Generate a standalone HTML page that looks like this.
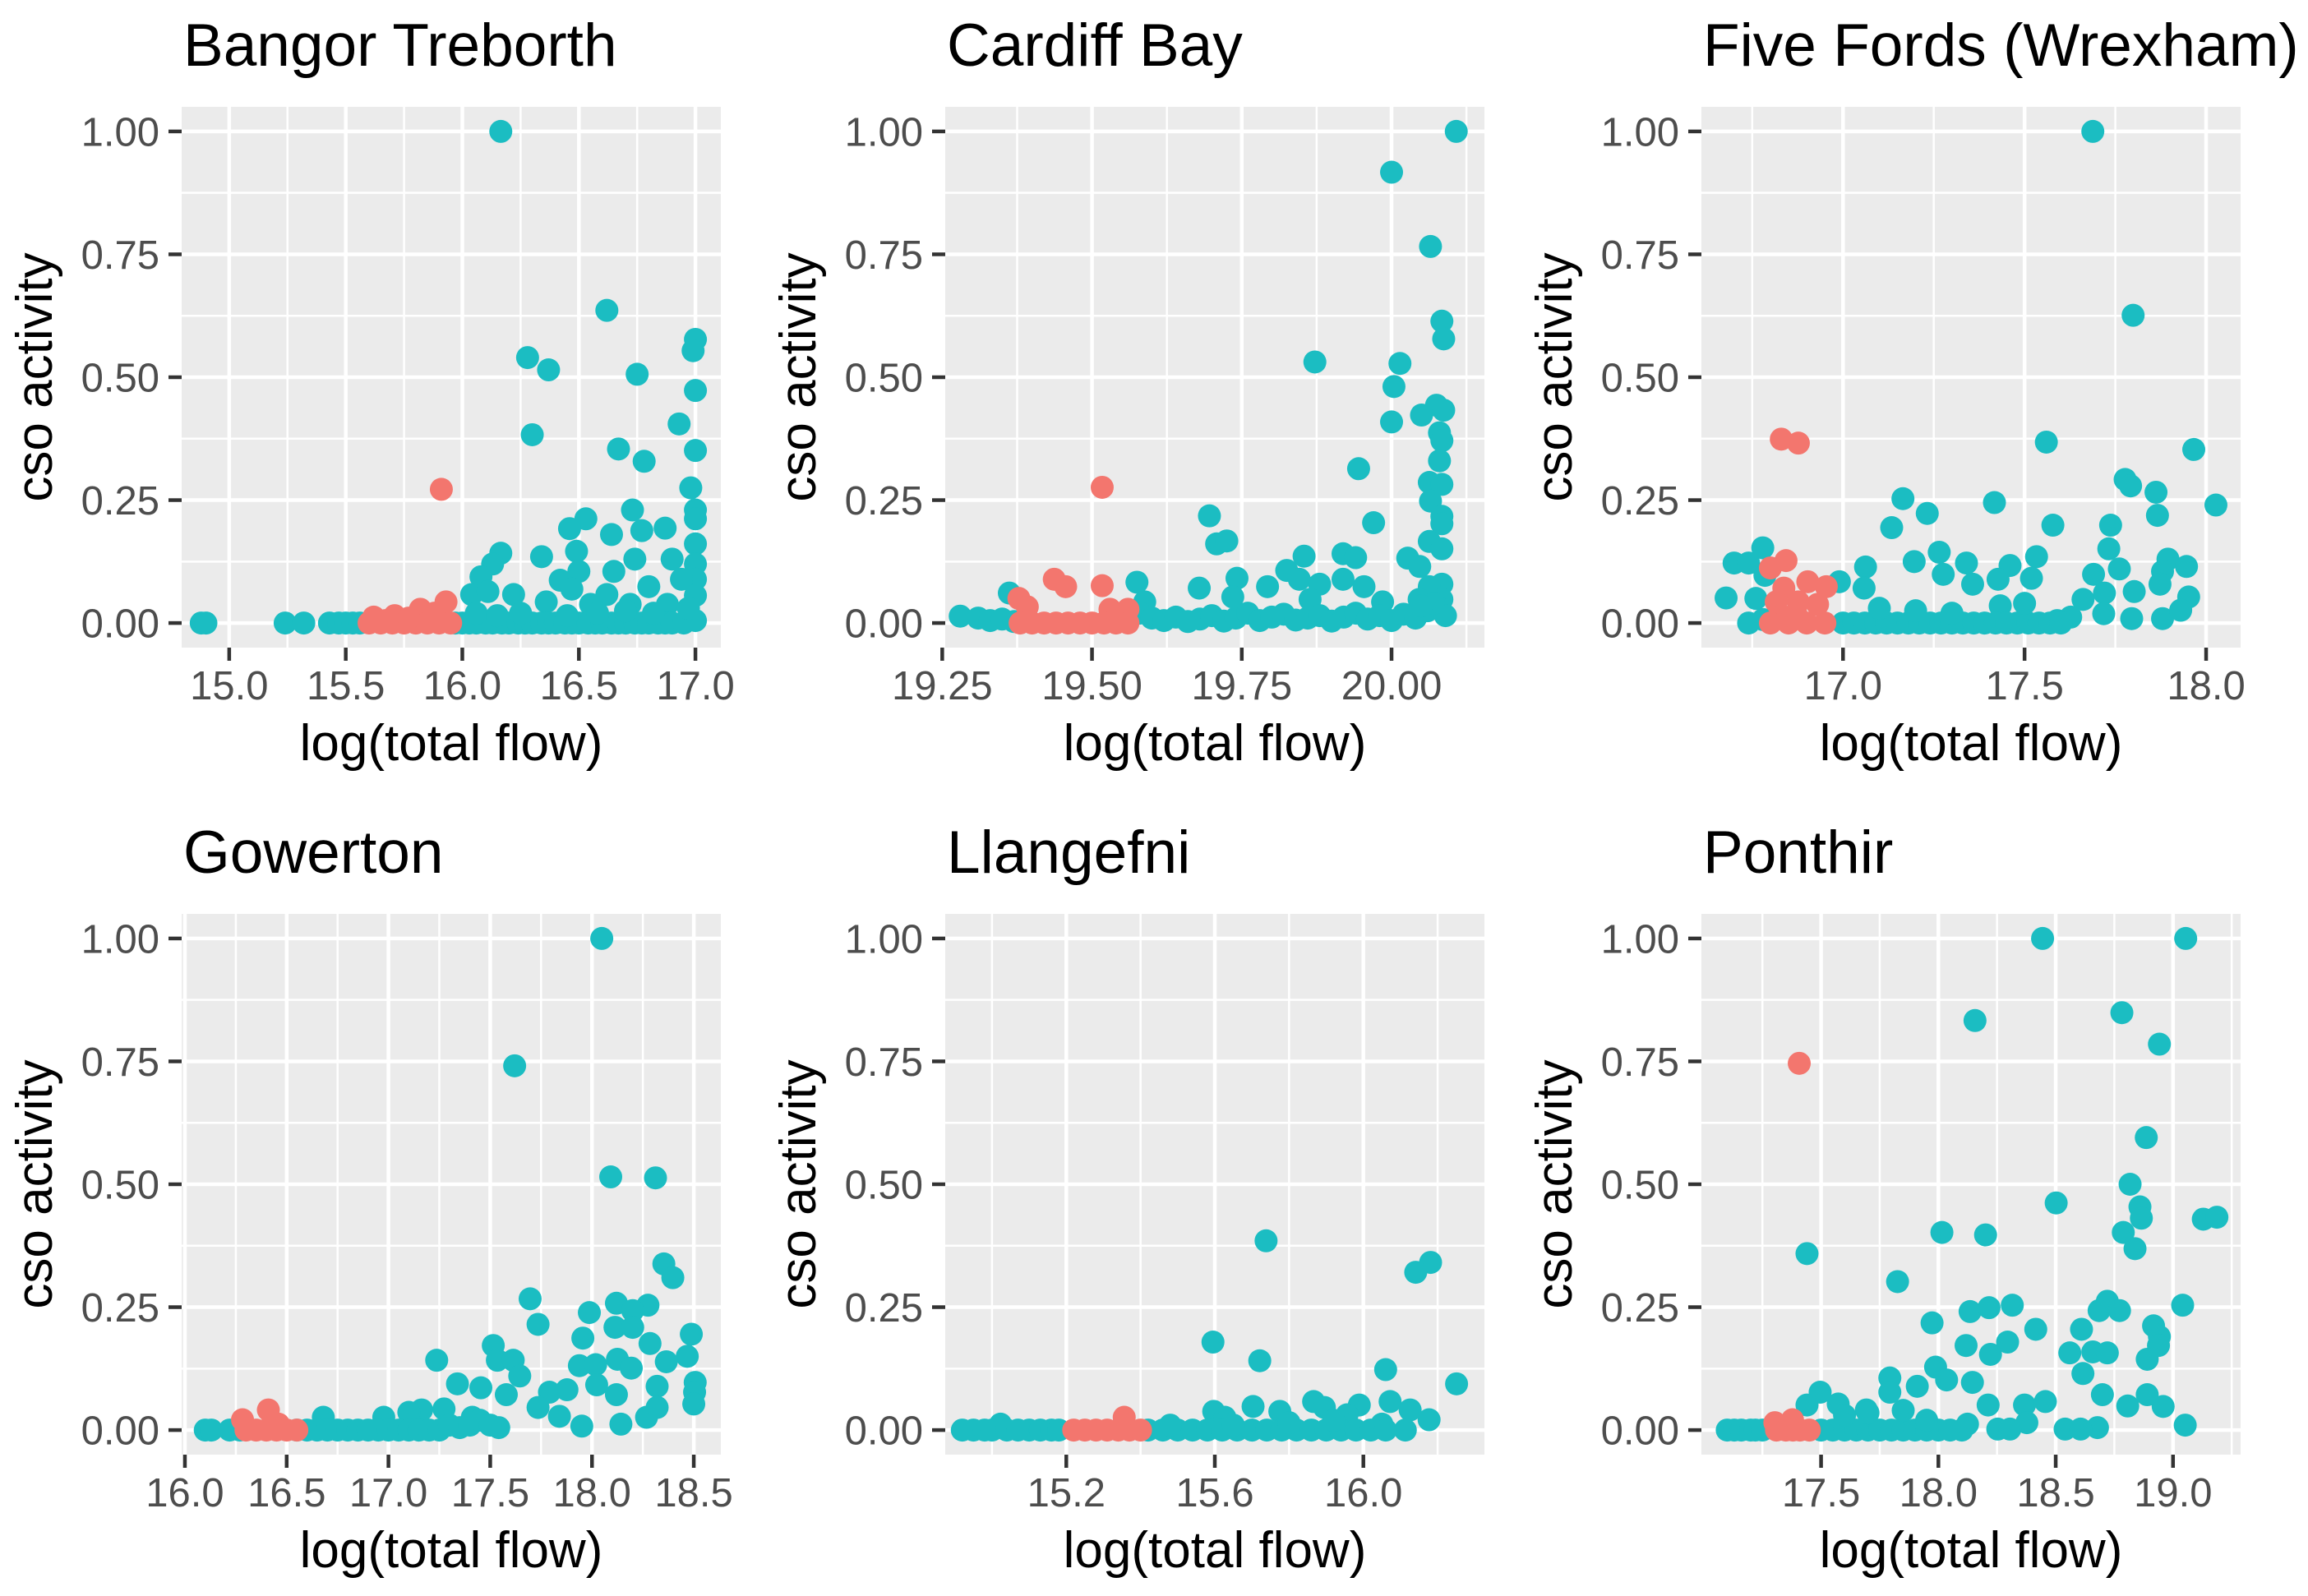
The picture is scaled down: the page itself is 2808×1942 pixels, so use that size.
<!DOCTYPE html>
<html><head><meta charset="utf-8"><style>
html,body{margin:0;padding:0;background:#fff;}
svg{display:block;font-family:"Liberation Sans",Arial,sans-serif;}
</style></head><body>
<svg id="chart" width="2808" height="1942" viewBox="0 0 2808 1942" xmlns="http://www.w3.org/2000/svg"></svg>
<script>
// ---------- data ----------
const panelTitles = ["Bangor Treborth","Cardiff Bay","Five Fords (Wrexham)","Gowerton","Llangefni","Ponthir"];
const yTicks = [0,0.25,0.5,0.75,1];
const yTickLabels = ["0.00","0.25","0.50","0.75","1.00"];
const xTicks = [[15.0,15.5,16.0,16.5,17.0],[19.25,19.5,19.75,20.0],[17.0,17.5,18.0],[16.0,16.5,17.0,17.5,18.0,18.5],[15.2,15.6,16.0],[17.5,18.0,18.5,19.0]];
const xTickLabels = [["15.0","15.5","16.0","16.5","17.0"],["19.25","19.50","19.75","20.00"],["17.0","17.5","18.0"],["16.0","16.5","17.0","17.5","18.0","18.5"],["15.2","15.6","16.0"],["17.5","18.0","18.5","19.0"]];
const xMinor = [[15.25,15.75,16.25,16.75],[19.375,19.625,19.875,20.125],[16.75,17.25,17.75],[16.25,16.75,17.25,17.75,18.25],[15.0,15.4,15.8,16.2],[17.25,17.75,18.25,18.75,19.25]];
const xDomains = [[14.796,17.109],[19.255,20.155],[16.61,18.095],[15.984,18.633],[14.874,16.326],[16.99,19.288]];

// Bangor Treborth
const cyanX1 = [16.165,16.62,16.28,16.37,16.30,16.75,17.0,16.99,17.0,16.93,17.0,16.67,16.78,16.98,17.0,17.0,16.73,16.53,16.46,16.64,16.77,16.87,16.165,16.13,16.34,16.49,16.50,16.42,16.74,16.65,16.90,17.0,17.0,17.0,16.94,16.08,16.04,16.11,16.22,16.47,16.62,16.80,17.0,16.87,17.0,16.88,16.72,16.36,16.55,14.88,14.9,15.24,15.32,15.43,15.47,15.5,15.53,15.56,15.97,16.0,16.03,16.06,16.1,16.13,16.17,16.2,16.24,16.27,16.3,16.34,16.37,16.4,16.44,16.47,16.5,16.54,16.57,16.6,16.64,16.67,16.7,16.74,16.77,16.8,16.84,16.87,16.9,16.95,16.06,16.15,16.25,16.45,16.58,16.7,16.82,16.97];
const cyanY1 = [1.0,0.636,0.54,0.515,0.383,0.506,0.577,0.554,0.473,0.405,0.351,0.354,0.329,0.275,0.23,0.212,0.23,0.212,0.192,0.18,0.188,0.193,0.142,0.12,0.135,0.146,0.105,0.087,0.13,0.105,0.13,0.161,0.12,0.089,0.089,0.094,0.058,0.064,0.058,0.069,0.058,0.074,0.056,0.002,0.005,0.038,0.038,0.043,0.038,0,0,0,0,0,0,0,0,0,0,0,0,0,0,0,0,0,0,0,0,0,0,0,0,0,0,0,0,0,0,0,0,0,0,0,0,0,0,0,0.02,0.015,0.02,0.015,0.02,0.025,0.02,0.03];
const redX1 = [15.91,15.93,15.82,15.71,15.6,15.65,15.7,15.75,15.8,15.85,15.9,15.95,15.88,15.77,15.62,15.67];
const redY1 = [0.272,0.043,0.028,0.015,0,0,0,0,0,0,0,0,0.02,0.01,0.012,0.005];

// Cardiff Bay
const cyanX2 = [20.108,20.0,20.065,20.084,20.087,19.872,20.014,20.004,20.0,20.05,20.075,20.087,20.08,20.084,20.08,20.063,20.084,20.065,20.084,20.084,19.945,19.97,19.696,19.708,19.725,19.854,19.919,19.94,20.063,20.084,20.027,20.047,19.825,19.846,19.919,19.88,19.742,19.793,19.679,19.575,19.362,19.954,20.084,20.063,20.084,19.985,19.735,19.588,20.046,19.864,19.28,19.31,19.33,19.35,19.37,19.58,19.6,19.62,19.64,19.66,19.68,19.7,19.72,19.74,19.76,19.78,19.8,19.82,19.84,19.86,19.88,19.9,19.92,19.94,19.96,19.98,20.0,20.02,20.04,20.06,20.08,20.09,20.07,20.05];
const cyanY2 = [1.0,0.917,0.766,0.614,0.578,0.531,0.528,0.481,0.409,0.423,0.443,0.433,0.387,0.371,0.33,0.286,0.282,0.248,0.217,0.202,0.314,0.204,0.218,0.161,0.167,0.136,0.141,0.133,0.166,0.151,0.132,0.115,0.107,0.089,0.089,0.079,0.091,0.074,0.071,0.083,0.061,0.074,0.079,0.074,0.048,0.043,0.053,0.043,0.048,0.048,0.014,0.01,0.005,0.008,0.003,0.02,0.01,0.005,0.012,0.003,0.008,0.015,0.004,0.01,0.02,0.005,0.012,0.018,0.006,0.01,0.015,0.004,0.012,0.02,0.008,0.015,0.005,0.018,0.01,0.025,0.03,0.015,0.04,0.035];
const redX2 = [19.517,19.437,19.456,19.517,19.378,19.392,19.53,19.56,19.38,19.4,19.42,19.44,19.46,19.48,19.5,19.52,19.54,19.56];
const redY2 = [0.276,0.089,0.074,0.076,0.05,0.033,0.028,0.028,0,0,0,0,0,0,0,0,0,0];

// Five Fords (Wrexham)
const cyanX3 = [17.688,17.799,17.56,17.966,17.777,17.792,17.862,17.866,18.027,17.165,17.417,17.232,17.134,17.578,17.737,17.732,16.779,16.7,16.74,17.062,17.196,17.265,17.34,17.276,17.46,17.533,17.69,17.761,17.895,17.946,17.88,17.873,17.952,17.802,17.72,17.357,17.427,17.519,17.661,17.718,17.795,17.88,17.93,16.678,17.058,16.99,16.785,16.74,16.78,17.433,17.627,17.59,17.0,17.03,17.06,17.09,17.12,17.15,17.18,17.21,17.24,17.27,17.3,17.33,17.36,17.39,17.42,17.45,17.48,17.51,17.54,17.57,17.6,17.1,17.2,17.3,17.5,16.76];
const cyanY3 = [1.0,0.626,0.368,0.353,0.292,0.279,0.266,0.219,0.24,0.253,0.245,0.223,0.194,0.199,0.199,0.151,0.153,0.122,0.122,0.114,0.125,0.144,0.122,0.099,0.117,0.135,0.099,0.11,0.13,0.115,0.105,0.079,0.053,0.064,0.061,0.079,0.089,0.091,0.048,0.019,0.009,0.009,0.026,0.051,0.071,0.084,0.097,0.0,0.007,0.035,0.012,0.005,0,0,0,0,0,0,0,0,0,0,0,0,0,0,0,0,0,0,0,0,0,0.03,0.025,0.02,0.04,0.05];
const redX3 = [16.83,16.877,16.843,16.8,16.903,16.837,16.954,16.816,16.877,16.93,16.823,16.8,16.85,16.9,16.95,16.87];
const redY3 = [0.374,0.366,0.127,0.112,0.084,0.071,0.074,0.043,0.043,0.038,0.012,0,0,0,0,0.02];

// Gowerton
const cyanX4 = [18.048,17.62,18.092,18.312,18.353,18.397,17.696,18.12,18.275,17.987,18.2,17.735,18.113,18.2,18.488,17.955,17.515,18.285,17.237,17.535,17.613,18.468,18.365,17.938,18.018,18.125,18.193,17.645,18.507,17.339,17.454,17.877,17.791,18.32,18.023,18.504,18.5,17.579,17.273,17.735,18.12,18.32,17.84,18.142,17.95,17.542,17.163,17.1,16.68,16.977,17.412,18.268,16.1,16.13,16.22,16.27,16.55,16.6,16.65,16.7,16.75,16.8,16.85,16.9,16.95,17.0,17.05,17.1,17.15,17.2,17.25,17.3,17.35,17.4,17.45,17.5];
const cyanY4 = [1.0,0.741,0.515,0.513,0.338,0.31,0.267,0.258,0.254,0.239,0.243,0.215,0.209,0.209,0.195,0.187,0.172,0.176,0.142,0.142,0.142,0.15,0.139,0.131,0.133,0.144,0.126,0.11,0.097,0.094,0.086,0.082,0.077,0.089,0.092,0.077,0.053,0.072,0.043,0.046,0.072,0.046,0.028,0.012,0.008,0.005,0.041,0.036,0.026,0.026,0.026,0.026,0,0,0,0,0,0,0,0,0,0,0,0,0,0,0,0,0,0,0,0.01,0.005,0.01,0.02,0.01];
const redX4 = [16.41,16.283,16.46,16.3,16.35,16.4,16.45,16.5,16.55];
const redY4 = [0.041,0.021,0.012,0,0,0,0,0,0];

// Llangefni
const cyanX5 = [15.738,16.181,16.141,15.595,15.721,16.06,16.251,16.072,15.703,15.866,15.989,15.597,15.775,15.895,16.126,16.177,16.113,16.05,15.956,15.627,15.023,14.92,14.95,14.98,15.0,15.04,15.07,15.1,15.13,15.16,15.18,15.42,15.46,15.5,15.54,15.58,15.62,15.66,15.7,15.74,15.78,15.82,15.86,15.9,15.94,15.98,16.02,16.06,15.48,15.65,15.8,15.92];
const cyanY5 = [0.385,0.341,0.321,0.179,0.141,0.123,0.094,0.058,0.048,0.058,0.051,0.038,0.038,0.046,0.041,0.021,0.0,0.012,0.031,0.026,0.012,0,0,0,0,0,0,0,0,0,0,0,0,0,0,0,0,0,0,0,0,0,0,0,0,0,0,0,0.01,0.01,0.015,0.02];
const redX5 = [15.356,15.22,15.25,15.28,15.31,15.34,15.37,15.4];
const redY5 = [0.026,0,0,0,0,0,0,0];

// Ponthir
const cyanX6 = [18.444,19.054,18.156,18.782,18.942,18.886,18.817,18.859,18.865,18.502,19.129,19.187,18.015,18.201,18.788,18.838,17.44,17.826,18.135,18.216,18.315,19.041,18.685,18.72,18.772,17.973,18.415,18.61,18.917,18.942,18.938,18.118,18.295,18.222,18.56,18.658,18.72,18.89,18.616,17.988,17.793,18.145,18.035,17.91,18.699,18.89,18.958,18.807,17.496,17.573,17.44,18.367,18.456,18.212,17.793,17.693,19.052,18.678,18.54,18.606,18.377,18.124,18.253,18.305,17.1,17.13,17.16,17.2,17.22,17.25,17.5,17.55,17.6,17.65,17.7,17.75,17.8,17.85,17.9,17.95,18.0,18.05,18.1,17.6,17.7,17.85,17.95];
const cyanY6 = [1.0,1.0,0.833,0.849,0.785,0.595,0.5,0.454,0.431,0.462,0.429,0.433,0.402,0.397,0.402,0.369,0.359,0.302,0.241,0.249,0.254,0.254,0.243,0.262,0.243,0.218,0.205,0.205,0.212,0.19,0.172,0.172,0.179,0.154,0.157,0.159,0.157,0.144,0.115,0.128,0.106,0.097,0.102,0.089,0.072,0.072,0.048,0.049,0.077,0.053,0.051,0.051,0.058,0.051,0.077,0.041,0.01,0.005,0.002,0.002,0.015,0.012,0.002,0.002,0,0,0,0,0,0,0,0,0,0,0,0,0,0,0,0,0,0,0,0.03,0.035,0.04,0.02];
const redX6 = [17.407,17.378,17.303,17.31,17.35,17.38,17.41,17.45];
const redY6 = [0.746,0.021,0.015,0,0,0,0,0];

const cyanXs=[cyanX1,cyanX2,cyanX3,cyanX4,cyanX5,cyanX6];
const cyanYs=[cyanY1,cyanY2,cyanY3,cyanY4,cyanY5,cyanY6];
const redXs=[redX1,redX2,redX3,redX4,redX5,redX6];
const redYs=[redY1,redY2,redY3,redY4,redY5,redY6];

// ---------- layout ----------
const NS="http://www.w3.org/2000/svg";
const svg=document.getElementById('chart');
const PL=[221,1150,2070], PT=[130,1112], PW=656, PH=658;
const Y0=-0.05, Y1=1.05;
function mk(tag,attrs,parent){const e=document.createElementNS(NS,tag);for(const k in attrs)e.setAttribute(k,attrs[k]);(parent||svg).appendChild(e);return e;}

for(let p=0;p<6;p++){
  const L=PL[p%3], T=PT[Math.floor(p/3)];
  const dom=xDomains[p];
  const sx=v=>L+(v-dom[0])/(dom[1]-dom[0])*PW;
  const sy=v=>T+PH-(v-Y0)/(Y1-Y0)*PH;
  const g=mk('g',{});
  
  
  const bg=mk('rect',{x:L,y:T,width:PW,height:PH,fill:'#EBEBEB'},g);
  
  
  for(let i=0;i<yTicks.length-1;i++){
    const y=sy((yTicks[i]+yTicks[i+1])/2);
    const l=mk('line',{x1:L,x2:L+PW,y1:y,y2:y,stroke:'#fff','stroke-width':2.5},g);
    
    
  }
  xMinor[p].forEach(v=>{const x=sx(v);if(x<L||x>L+PW)return;
    const l=mk('line',{x1:x,x2:x,y1:T,y2:T+PH,stroke:'#fff','stroke-width':2.5},g);
    
    });
  yTicks.forEach((v,i)=>{const y=sy(v);
    const l=mk('line',{x1:L,x2:L+PW,y1:y,y2:y,stroke:'#fff','stroke-width':4.5},g);
    
    
    const t=mk('line',{x1:L-16,x2:L,y1:y,y2:y,stroke:'#333','stroke-width':4.5},g);
    
    
    const tx=mk('text',{x:L-27,y:y+17.5,'text-anchor':'end','font-size':49,fill:'#4D4D4D'},g);
    tx.textContent=yTickLabels[i];
    
    
  });
  xTicks[p].forEach((v,i)=>{const x=sx(v);
    if(x>=L-1&&x<=L+PW+1){
      const l=mk('line',{x1:x,x2:x,y1:T,y2:T+PH,stroke:'#fff','stroke-width':4.5},g);
      
      }
    const t=mk('line',{x1:x,x2:x,y1:T+PH,y2:T+PH+16,stroke:'#333','stroke-width':4.5},g);
    
    
    const tx=mk('text',{x:x,y:T+PH+63,'text-anchor':'middle','font-size':49,fill:'#4D4D4D'},g);
    tx.textContent=xTickLabels[p][i];
    
    
  });
  const clip='clip'+p;
  const cp=mk('clipPath',{id:clip},g);mk('rect',{x:L,y:T,width:PW,height:PH},cp);
  const pts=mk('g',{'clip-path':'url(#'+clip+')'},g);
  
  
  cyanXs[p].forEach((v,i)=>{
    const c=mk('circle',{cx:sx(v),cy:sy(cyanYs[p][i]),r:14,fill:'#1BBDC2'},pts);
    
    
  });
  redXs[p].forEach((v,i)=>{
    const c=mk('circle',{cx:sx(v),cy:sy(redYs[p][i]),r:14,fill:'#F3766E'},pts);
    
    
  });
  const ti=mk('text',{x:L+2,y:T-50,'font-size':73,fill:'#000'},g);
  ti.textContent=panelTitles[p];
  
  
  const xt=mk('text',{x:L+PW/2,y:T+PH+137,'text-anchor':'middle','font-size':62,fill:'#000'},g);
  xt.textContent='log(total flow)';
  
  
  const yt=mk('text',{x:0,y:0,'text-anchor':'middle','font-size':62,fill:'#000',transform:'translate('+(L-158)+','+(T+PH/2)+') rotate(-90)'},g);
  yt.textContent='cso activity';
  
  
}
</script>
</body></html>
